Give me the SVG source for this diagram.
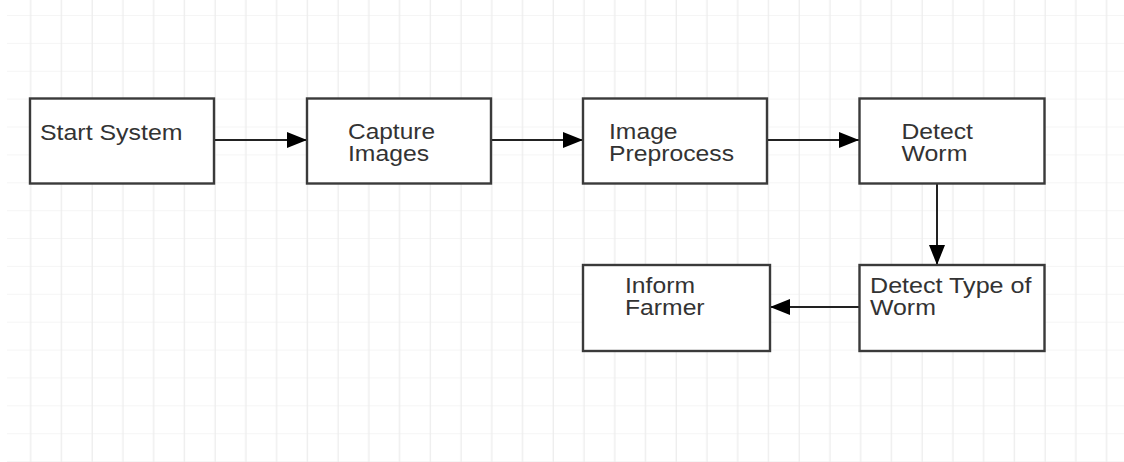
<svg xmlns="http://www.w3.org/2000/svg" width="1124" height="462" viewBox="0 0 1124 462">
<defs>
<pattern id="grid" x="0.7" y="15" width="30.74" height="27.88" patternUnits="userSpaceOnUse">
<path d="M30 0V27.88M0 0H30.74" fill="none" stroke="#ececec" stroke-width="1.2"/>
</pattern>
<marker id="ah" viewBox="0 0 20 16" refX="20" refY="8" markerWidth="20" markerHeight="16" markerUnits="userSpaceOnUse" orient="auto">
<path d="M0 0L20 8L0 16Z" fill="#000"/>
</marker>
</defs>
<style>
.box{fill:#fff;stroke:#3a3a3a;stroke-width:2.4}
.lbl{font-family:"Liberation Sans",Arial,sans-serif;font-size:22px;fill:#333}
.con{stroke:#222;stroke-width:2;fill:none;marker-end:url(#ah)}
</style>
<rect width="1124" height="462" fill="#fff"/>
<rect x="7" y="0" width="1117" height="462" fill="url(#grid)"/>
<g id="connectors">
<path class="con" d="M214 140H307"/>
<path class="con" d="M491 140H583"/>
<path class="con" d="M767 140H859"/>
<path class="con" d="M937 183V265"/>
<path class="con" d="M859 307H770"/>
</g>
<g id="start">
<rect class="box" x="30" y="98.5" width="184" height="85"/>
<text class="lbl" x="40" y="140" textLength="142.5" lengthAdjust="spacingAndGlyphs">Start System</text>
</g>
<g id="capture">
<rect class="box" x="307" y="98.5" width="184" height="85"/>
<text class="lbl" x="348" y="138.5" textLength="87" lengthAdjust="spacingAndGlyphs">Capture</text>
<text class="lbl" x="348" y="161" textLength="81" lengthAdjust="spacingAndGlyphs">Images</text>
</g>
<g id="preprocess">
<rect class="box" x="583" y="98.5" width="184" height="85"/>
<text class="lbl" x="609" y="138.5" textLength="68.6" lengthAdjust="spacingAndGlyphs">Image</text>
<text class="lbl" x="609" y="161" textLength="125" lengthAdjust="spacingAndGlyphs">Preprocess</text>
</g>
<g id="detect">
<rect class="box" x="859.5" y="98.5" width="185" height="85"/>
<text class="lbl" x="901.5" y="138.5" textLength="71.4" lengthAdjust="spacingAndGlyphs">Detect</text>
<text class="lbl" x="901.5" y="161" textLength="65.9" lengthAdjust="spacingAndGlyphs">Worm</text>
</g>
<g id="detecttype">
<rect class="box" x="859.5" y="265" width="185" height="86"/>
<text class="lbl" x="870" y="293" textLength="161.5" lengthAdjust="spacingAndGlyphs">Detect Type of</text>
<text class="lbl" x="870" y="315" textLength="65.9" lengthAdjust="spacingAndGlyphs">Worm</text>
</g>
<g id="inform">
<rect class="box" x="583" y="265" width="187" height="86"/>
<text class="lbl" x="625" y="293" textLength="70" lengthAdjust="spacingAndGlyphs">Inform</text>
<text class="lbl" x="625" y="315" textLength="79.6" lengthAdjust="spacingAndGlyphs">Farmer</text>
</g>
</svg>
